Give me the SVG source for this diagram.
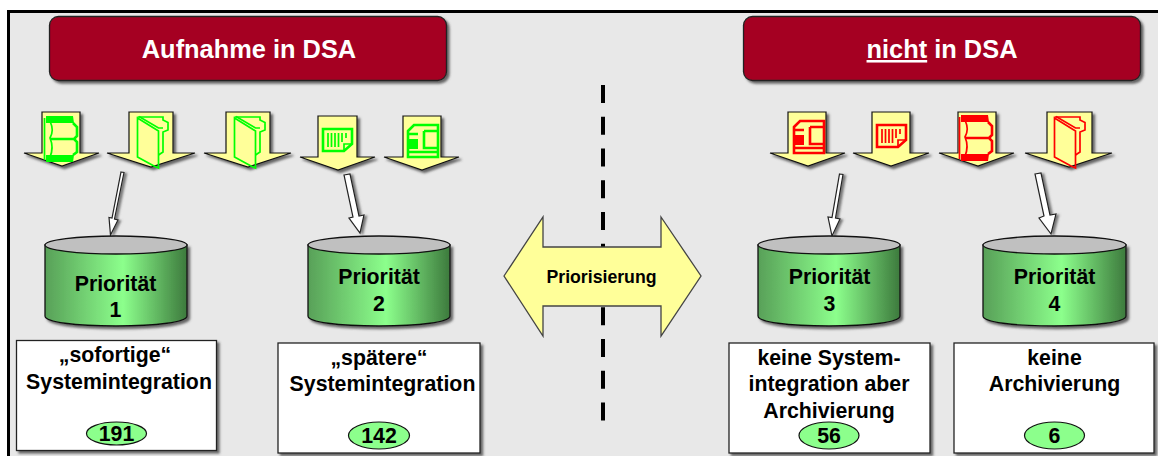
<svg xmlns="http://www.w3.org/2000/svg" width="1158" height="456" viewBox="0 0 1158 456">
<style>
text{font-family:"Liberation Sans",Arial,sans-serif;font-weight:bold;text-anchor:middle;fill:#000;font-size:21.3px}
.ban{fill:#a50021;stroke:#222;stroke-width:1.3;filter:url(#sh)}
.bt{fill:#fff;font-size:25.4px}
.down{fill:#ffff99;stroke:#111;stroke-width:1.2;filter:url(#sh)}
.con{fill:#fff;stroke:#222;stroke-width:1.2;filter:url(#sh2)}
.body{fill:url(#cyl);stroke:#111;stroke-width:1.3;filter:url(#sh)}
.top{fill:#c0c0c0;stroke:#111;stroke-width:1.3}
.box{fill:#fff;stroke:#222;stroke-width:1.3;filter:url(#sh)}
.pill{fill:#8cff8c;stroke:#111;stroke-width:1.2}
.g{color:#00ff00}
.r{color:#ff0000}
.ic{fill:none;stroke:currentColor;stroke-width:1.7}
.icw{fill:none;stroke:currentColor;stroke-width:2.6}
.icf{fill:currentColor;stroke:none}
</style>
<defs>
<filter id="sh" x="-10%" y="-10%" width="125%" height="125%"><feDropShadow dx="2.5" dy="2.5" stdDeviation="1.2" flood-color="#444" flood-opacity="0.8"/></filter>
<filter id="sh2" x="-60%" y="-10%" width="260%" height="125%"><feDropShadow dx="2.5" dy="1" stdDeviation="1" flood-color="#666" flood-opacity="0.9"/></filter>
<linearGradient id="cyl" x1="0" x2="1" y1="0" y2="0">
<stop offset="0" stop-color="#58a058"/><stop offset="0.55" stop-color="#8cff8c"/><stop offset="1" stop-color="#3d7a3d"/>
</linearGradient>
<g id="folder">
<path class="ic" d="M0.500 2 L21.500 15 V52 L17 50 L0.500 41 Z"/>
<path class="ic" d="M0.500 1 H26 V4 L31 6.500 V14 L26 16 V36 L21.500 39"/>
<path class="ic" d="M2 0.500 L21.500 12 H26"/>
</g>
<g id="book">
<path class="icf" d="M2 0 H29 L30 7 H2 Z M2 39 H30 L29 46 H2 Z"/>
<path class="ic" d="M0.500 2 V44 M6 5 C9 12 9 16 6 22 C9 29 9 34 6 41"/>
<path class="icw" d="M6 23 H30 M29 7 L33 11 V20 L30 23 L33 26 V36 L29 39"/>
</g>
<g id="sheet">
<path class="icw" d="M1 1 H30 V16 L22 23 H1 Z"/>
<path class="ic" d="M22 23 V16 H30"/>
<path class="ic" d="M6 5 V19 M9.500 5 V19 M13 5 V19 M16.500 5 V19 M20 5 V14 M24 5 V10"/>
</g>
<g id="card">
<path class="icw" d="M1 7 L7 1 H31 V33 H1 Z M1 28 H31 M1 10 H11 M17 7 H31 M17 7 V24 H31"/>
<rect class="icf" x="0" y="15" width="11" height="10"/>
</g>
</defs>

<rect width="1158" height="456" fill="#fff"/>
<rect x="8" y="11" width="1150" height="445" fill="#e8e8e8"/>
<path d="M8.500 456 V11.500 H1158" fill="none" stroke="#000" stroke-width="3"/>

<g id="divider"><line x1="603" y1="85" x2="603" y2="421" stroke="#000" stroke-width="4" stroke-dasharray="18 13.750"/></g>

<g id="banner-left"><rect class="ban" x="49.500" y="16.500" width="397" height="64" rx="9"/><text class="bt" x="249" y="58">Aufnahme in DSA</text></g>
<g id="banner-right"><rect class="ban" x="743.500" y="16.500" width="397" height="64" rx="9"/><text class="bt" x="942" y="58"><tspan text-decoration="underline">nicht</tspan> in DSA</text></g>

<g id="doc-1" class="g"><path class="down" d="M42 112 H80 V153 H99 L62 166 L24 153 H42 Z"/><use href="#book" x="44" y="116"/></g>
<g id="doc-2" class="g"><path class="down" d="M129 112 H173 V153 H195 L151 167 L107 153 H129 Z"/><use href="#folder" x="137" y="116"/></g>
<g id="doc-3" class="g"><path class="down" d="M226 112 H270 V153 H291 L248 167 L204 153 H226 Z"/><use href="#folder" x="234" y="116"/></g>
<g id="doc-4" class="g"><path class="down" d="M318 116 H357 V157 H375 L338 170 L300 157 H318 Z"/><use href="#sheet" x="322" y="128"/></g>
<g id="doc-5" class="g"><path class="down" d="M403 116 H441 V157 H459 L422 170 L384 157 H403 Z"/><use href="#card" x="407" y="124"/></g>
<g id="doc-6" class="r"><path class="down" d="M788 112 H826 V153 H845 L808 166 L770 153 H788 Z"/><use href="#card" x="793" y="120"/></g>
<g id="doc-7" class="r"><path class="down" d="M872 112 H910 V153 H929 L891 166 L853 153 H872 Z"/><use href="#sheet" x="876" y="124"/></g>
<g id="doc-8" class="r"><path class="down" d="M958 112 H996 V153 H1014 L978 166 L939 153 H958 Z"/><use href="#book" x="959" y="115"/></g>
<g id="doc-9" class="r"><path class="down" d="M1047 112 H1092 V153 H1112 L1069 167 L1025 153 H1047 Z"/><use href="#folder" x="1054" y="116"/></g>

<g id="connectors">
<path class="con" d="M121 172 L124 172.500 L114.500 219 L118 220 L110.500 235 L109 217.500 L112 218 Z"/>
<path class="con" d="M344 175 L350 174 L359 216 L364 215 L360 233 L349 218 L353 217 Z"/>
<path class="con" d="M839.500 174 L843 174.500 L835.500 218 L840 219 L832 236 L828 217 L832 217.500 Z"/>
<path class="con" d="M1035 174 L1041 173 L1050 215 L1056 214 L1051 234 L1039 218 L1044 216 Z"/>
</g>

<g id="priority-1"><path class="body" d="M45 245 V316 C45 322 75 326 116 326 C157 326 187 322 187 316 V245 Z"/><ellipse class="top" cx="116" cy="245" rx="71" ry="9"/><text x="115.500" y="291">Priorität</text><text x="115.500" y="317">1</text></g>
<g id="priority-2"><path class="body" d="M308 245 V316 C308 322 338 326 379 326 C420 326 450 322 450 316 V245 Z"/><ellipse class="top" cx="379" cy="245" rx="71" ry="9"/><text x="379" y="284">Priorität</text><text x="379" y="311">2</text></g>
<g id="priority-3"><path class="body" d="M758 245 V316 C758 322 788 326 829 326 C870 326 900 322 900 316 V245 Z"/><ellipse class="top" cx="829" cy="245" rx="71" ry="9"/><text x="829.500" y="284">Priorität</text><text x="829.500" y="311">3</text></g>
<g id="priority-4"><path class="body" d="M983 245 V316 C983 322 1013 326 1054.500 326 C1096 326 1126 322 1126 316 V245 Z"/><ellipse class="top" cx="1054.500" cy="245" rx="71.500" ry="9"/><text x="1054.500" y="284">Priorität</text><text x="1054.500" y="311">4</text></g>

<g id="priorisierung"><path d="M504 276 L543 217 V247 H661 V217 L701 276 L661 336 V306 H543 V336 Z" fill="#ffff99" stroke="#444" stroke-width="1.3"/><text x="601.500" y="283" style="font-size:17.700px">Priorisierung</text></g>

<g id="box-1"><rect class="box" x="16.500" y="340.500" width="200" height="110"/><text x="115" y="362">„sofortige“</text><text x="119" y="389">Systemintegration</text><ellipse class="pill" cx="116.500" cy="433.500" rx="30" ry="11.500"/><text x="116.500" y="440.500">191</text></g>
<g id="box-2"><rect class="box" x="278" y="343" width="202" height="110"/><text x="379" y="365">„spätere“</text><text x="382.500" y="391">Systemintegration</text><ellipse class="pill" cx="379" cy="435.500" rx="30.500" ry="13.500"/><text x="379" y="443">142</text></g>
<g id="box-3"><rect class="box" x="729" y="343" width="201" height="110"/><text x="829" y="365">keine System-</text><text x="829" y="391">integration aber</text><text x="829" y="418">Archivierung</text><ellipse class="pill" cx="829" cy="435.500" rx="30" ry="13.500"/><text x="829" y="443">56</text></g>
<g id="box-4"><rect class="box" x="954" y="343" width="200" height="110"/><text x="1054.500" y="365">keine</text><text x="1054.500" y="391">Archivierung</text><ellipse class="pill" cx="1054.500" cy="435.500" rx="30" ry="13.500"/><text x="1054.500" y="443">6</text></g>
</svg>
